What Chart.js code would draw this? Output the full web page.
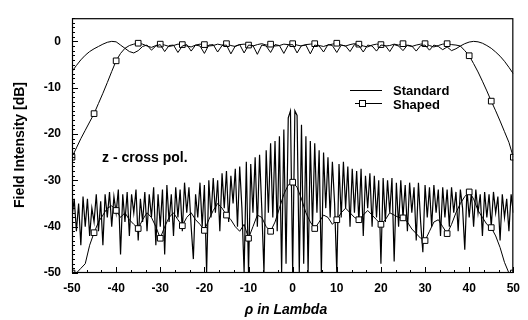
<!DOCTYPE html>
<html>
<head>
<meta charset="utf-8">
<script src="https://cdn.jsdelivr.net/npm/chart.js@4/dist/chart.umd.min.js"></script>
<style>
  html, body { margin: 0; padding: 0; background: #fff; }
  #wrap { position: relative; width: 528px; height: 320px; overflow: hidden; }
  canvas { position: absolute; left: 0; top: 0; }
  .t { position: absolute; font-family: "Liberation Sans", Arial, sans-serif; font-weight: bold; font-size: 14px; color: #000; white-space: nowrap; line-height: 1; }
  .lg { font-size: 13px; }
</style>
</head>
<body>
<div id="wrap">
  <canvas id="c" width="528" height="320"></canvas>
  <div class="t" style="left:19px;top:145px;transform:translate(-50%,-50%) rotate(-90deg);">Field Intensity [dB]</div>
  <div class="t" style="left:286px;top:309px;transform:translate(-50%,-50%);font-style:italic;">ρ in Lambda</div>
  <div class="t" style="left:102px;top:157px;transform:translateY(-50%);">z - cross pol.</div>
  <div class="t lg" style="left:393px;top:90px;transform:translateY(-50%);">Standard</div>
  <div class="t lg" style="left:393px;top:104px;transform:translateY(-50%);">Shaped</div>
</div>
<script>
// ---- data ----
const xTicks = [-50, -40, -30, -20, -10, 0, 10, 20, 30, 40, 50];
const yTicks = [-50, -40, -30, -20, -10, 0];

const rho1 = [
-50,-49,-48,-47,-46,-45,-44,-43,-42,-41,
-40,-39,-38,-37,-36,-35,-34,-33,-32,-31,
-30,-29,-28,-27,-26,-25,-24,-23,-22,-21,
-20,-19,-18,-17,-16,-15,-14,-13,-12,-11,
-10,-9,-8,-7,-6,-5,-4,-3,-2,-1,
0,1,2,3,4,5,6,7,8,9,
10,11,12,13,14,15,16,17,18,19,
20,21,22,23,24,25,26,27,28,29,
30,31,32,33,34,35,36,37,38,39,
40,41,42,43,44,45,46,47,48,49,
50];

const rho05 = [
-50,-49.5,-49,-48.5,-48,-47.5,-47,-46.5,-46,-45.5,
-45,-44.5,-44,-43.5,-43,-42.5,-42,-41.5,-41,-40.5,
-40,-39.5,-39,-38.5,-38,-37.5,-37,-36.5,-36,-35.5,
-35,-34.5,-34,-33.5,-33,-32.5,-32,-31.5,-31,-30.5,
-30,-29.5,-29,-28.5,-28,-27.5,-27,-26.5,-26,-25.5,
-25,-24.5,-24,-23.5,-23,-22.5,-22,-21.5,-21,-20.5,
-20,-19.5,-19,-18.5,-18,-17.5,-17,-16.5,-16,-15.5,
-15,-14.5,-14,-13.5,-13,-12.5,-12,-11.5,-11,-10.5,
-10,-9.5,-9,-8.5,-8,-7.5,-7,-6.5,-6,-5.5,
-5,-4.5,-4,-3.5,-3,-2.5,-2,-1.5,-1,-0.5,
0,0.5,1,1.5,2,2.5,3,3.5,4,4.5,
5,5.5,6,6.5,7,7.5,8,8.5,9,9.5,
10,10.5,11,11.5,12,12.5,13,13.5,14,14.5,
15,15.5,16,16.5,17,17.5,18,18.5,19,19.5,
20,20.5,21,21.5,22,22.5,23,23.5,24,24.5,
25,25.5,26,26.5,27,27.5,28,28.5,29,29.5,
30,30.5,31,31.5,32,32.5,33,33.5,34,34.5,
35,35.5,36,36.5,37,37.5,38,38.5,39,39.5,
40,40.5,41,41.5,42,42.5,43,43.5,44,44.5,
45,45.5,46,46.5,47,47.5,48,48.5,49,49.5,
50];

// co-polar, standard horn (on rho1)
const coStandard = [
-6.5,-5.2,-4.0,-3.0,-2.2,-1.6,-1.1,-0.6,-0.2,0,
-0.1,-0.8,-1.5,-2.2,-2.5,-2.0,-1.1,-0.8,-1.9,-1.0,
-0.7,-2.2,-0.9,-0.8,-2.4,-1.0,-0.7,-2.1,-0.8,-1.0,
-2.6,-0.8,-0.7,-2.3,-0.9,-0.8,-2.7,-1.0,-0.7,-2.5,
-0.8,-0.9,-2.8,-0.8,-1.0,-2.4,-0.7,-0.9,-2.6,-0.8,
-0.7,-2.5,-0.9,-0.8,-2.7,-0.8,-1.0,-2.3,-0.7,-0.9,
-2.4,-0.8,-1.0,-2.2,-0.7,-0.9,-2.3,-0.8,-1.0,-2.1,
-0.8,-0.9,-2.2,-0.7,-1.0,-2.0,-0.8,-1.0,-2.1,-0.9,
-0.8,-1.9,-0.8,-1.1,-1.8,-1.2,-2.0,-1.6,-1.0,-0.5,
-0.15,0,-0.1,-0.4,-0.9,-1.5,-2.3,-3.2,-4.3,-5.6,
-7];

// co-polar, shaped horn (on rho1)
const coShaped = [
-25,-23,-21,-19.2,-17.4,-15.6,-13.4,-11.2,-8.9,-6.5,
-4.2,-2.6,-1.5,-0.9,-0.6,-0.4,-0.6,-1.0,-1.3,-0.9,
-0.6,-0.8,-1.1,-0.9,-0.6,-0.7,-1.0,-1.2,-0.8,-0.6,
-0.7,-1.0,-0.9,-0.6,-0.8,-0.5,-0.9,-1.1,-0.7,-0.6,
-0.8,-1.0,-0.7,-0.5,-0.8,-0.6,-1.0,-0.9,-0.6,-0.7,
-0.5,-0.8,-1.0,-0.7,-0.6,-0.5,-0.9,-1.1,-0.8,-0.6,
-0.4,-0.8,-1.0,-0.7,-0.5,-0.6,-1.0,-1.2,-0.8,-0.6,
-0.7,-1.0,-0.9,-0.6,-0.8,-0.5,-0.9,-1.1,-0.8,-0.6,
-0.5,-0.9,-1.2,-0.9,-0.6,-0.5,-0.7,-0.8,-1.0,-2.0,
-3.1,-4.8,-6.6,-8.6,-10.7,-12.9,-15.0,-17.2,-19.5,-21.8,
-25];

// z cross-polar, standard horn (on rho05)
const xStandard = [
-38,-34,-41,-35,-44,-33.5,-40,-34,-42,-36,
-39,-33,-41,-34.5,-44,-33,-38,-32.5,-40,-33.5,
-37,-32,-46,-33,-39,-32.5,-42,-33,-37,-32,
-43,-34,-39,-32.5,-41,-33,-38,-31.5,-44,-33,
-40,-32,-46,-31,-39,-33,-42,-31.5,-38,-32,
-41,-30.5,-37,-31.5,-40,-47,-33,-38,-30.5,-40,
-31,-50,-30,-38,-29.5,-37,-30,-41,-28.5,-36,
-28,-39,-29,-35,-27.5,-40,-27,-36,-50,-26,
-50,-26.5,-37,-25,-40,-24.5,-36,-50,-23.5,-37,
-22,-38,-21.5,-41,-20.5,-50,-19,-48,-16.5,-15,
-50,-15,-16,-50,-18,-48,-20.5,-50,-21.5,-40,
-22,-37,-23.5,-50,-24,-36,-25,-38,-26,-35,
-50,-26.5,-38,-26,-36,-27,-40,-27.5,-37,-28,
-39,-27.5,-42,-29,-36,-28.5,-40,-29,-38,-30,
-48,-29.5,-39,-30,-37,-29.5,-47.5,-30.5,-40,-30,
-38,-31,-41,-30.5,-37,-31.5,-43,-30.5,-39,-45.5,
-31,-38,-31.5,-40,-31,-37,-32,-42,-31.5,-38,
-32,-40,-31.5,-37,-32.5,-41,-32,-36,-45,-32,
-38,-32.5,-40,-32,-37,-33,-42,-32.5,-38,-33,
-40,-32.5,-37,-33.5,-43,-33,-38,-34,-41,-33,
-37];

// z cross-polar, shaped horn (on rho1)
const xShaped = [
-50,-50,-49,-48,-44,-41.3,-39,-37.5,-36,-35.5,
-36.5,-38,-37,-38.5,-39.5,-40.4,-38.5,-37,-38,-40,
-42.5,-40,-38,-37,-38.5,-39.8,-38,-37,-38.5,-39.5,
-40.8,-38.5,-36.5,-35,-36,-37.5,-38.5,-40,-41,-39.5,
-42.5,-40,-37.5,-38,-40,-41,-39,-36,-33,-31,
-30.4,-31.5,-34,-37,-39,-40.4,-39,-37.5,-38,-39.5,
-38.5,-37,-36,-37,-38,-38.5,-37.5,-36.5,-37.5,-38.5,
-39.5,-38.5,-37,-37.5,-38,-38.1,-39,-40.5,-41.5,-42.5,
-43,-41,-39,-38.5,-40,-41.5,-39.5,-37,-35,-33.5,
-32.5,-34,-36.5,-38,-39.5,-40.2,-42,-44.5,-47.7,-50,
-50];

const pts = (xs, ys) => xs.map((v, i) => ({ x: v, y: ys[i] }));
const squareAt5 = (xs) => (ctx) => (xs[ctx.dataIndex] % 5 === 0 ? 4 : 0);

const lineBase = { borderColor: '#000', borderWidth: 1, tension: 0, fill: false, pointHoverRadius: 0 };

const datasets = [
  Object.assign({ label: 'Standard', data: pts(rho1, coStandard), pointRadius: 0 }, lineBase),
  Object.assign({ label: 'Shaped', data: pts(rho1, coShaped), pointRadius: squareAt5(rho1),
    pointStyle: 'rect', pointBackgroundColor: '#fff', pointBorderColor: '#000', pointBorderWidth: 1 }, lineBase),
  Object.assign({ label: 'Shaped (z - cross pol.)', data: pts(rho1, xShaped), pointRadius: squareAt5(rho1),
    pointStyle: 'rect', pointBackgroundColor: '#fff', pointBorderColor: '#000', pointBorderWidth: 1 }, lineBase),
  Object.assign({}, lineBase, { label: 'Standard (z - cross pol.)', data: pts(rho05, xStandard), pointRadius: 0, borderWidth: 1.2 })
];

const tickFont = { family: "'Liberation Sans', Arial, sans-serif", weight: 'bold', size: 12 };

const framePlugin = {
  id: 'frame',
  afterDraw(chart) {
    const { ctx, chartArea: a, scales: { x, y } } = chart;
    ctx.save();
    ctx.strokeStyle = '#000';
    ctx.lineWidth = 1.2;
    ctx.strokeRect(a.left + 0.5, a.top + 0.5, a.right - a.left - 1, a.bottom - a.top - 1);
    ctx.lineWidth = 1;
    ctx.beginPath();
    for (let v = -50; v <= 5; v += 1) {
      const py = Math.round(y.getPixelForValue(v)) + 0.5;
      const len = (v % 10 === 0) ? 6 : 3;
      ctx.moveTo(a.left, py); ctx.lineTo(a.left + len, py);
    }
    for (let k = 0; k <= 30; k++) {
      const px = Math.round(x.getPixelForValue(-50 + k * 10 / 3)) + 0.5;
      const len = (k % 3 === 0) ? 6 : 3;
      ctx.moveTo(px, a.bottom); ctx.lineTo(px, a.bottom - len);
    }
    // legend samples
    ctx.moveTo(350, 90.5); ctx.lineTo(382, 90.5);
    ctx.moveTo(355, 103.5); ctx.lineTo(382, 103.5);
    ctx.stroke();
    ctx.fillStyle = '#fff';
    ctx.fillRect(359.5, 100.5, 6, 6);
    ctx.strokeRect(359.5, 100.5, 6, 6);
    ctx.restore();
  }
};

new Chart(document.getElementById('c'), {
  type: 'line',
  data: { datasets },
  plugins: [framePlugin],
  options: {
    responsive: false,
    animation: false,
    devicePixelRatio: 1,
    events: [],
    layout: { padding: { top: 9, right: 4, left: 0, bottom: 0 } },
    plugins: { legend: { display: false }, tooltip: { enabled: false } },
    scales: {
      x: {
        type: 'linear', min: -50, max: 50,
        afterFit: (s) => { s.height = 47; },
        afterBuildTicks: (s) => { s.ticks = xTicks.map(v => ({ value: v })); },
        grid: { display: false, drawTicks: false },
        border: { display: false },
        ticks: { font: tickFont, color: '#000', padding: 8, maxRotation: 0, autoSkip: false }
      },
      y: {
        type: 'linear', min: -50, max: 5,
        afterFit: (s) => { s.width = 72; },
        afterBuildTicks: (s) => { s.ticks = yTicks.map(v => ({ value: v })); },
        grid: { display: false, drawTicks: false },
        border: { display: false },
        ticks: { font: tickFont, color: '#000', padding: 11, autoSkip: false }
      }
    }
  }
});
</script>
</body>
</html>
